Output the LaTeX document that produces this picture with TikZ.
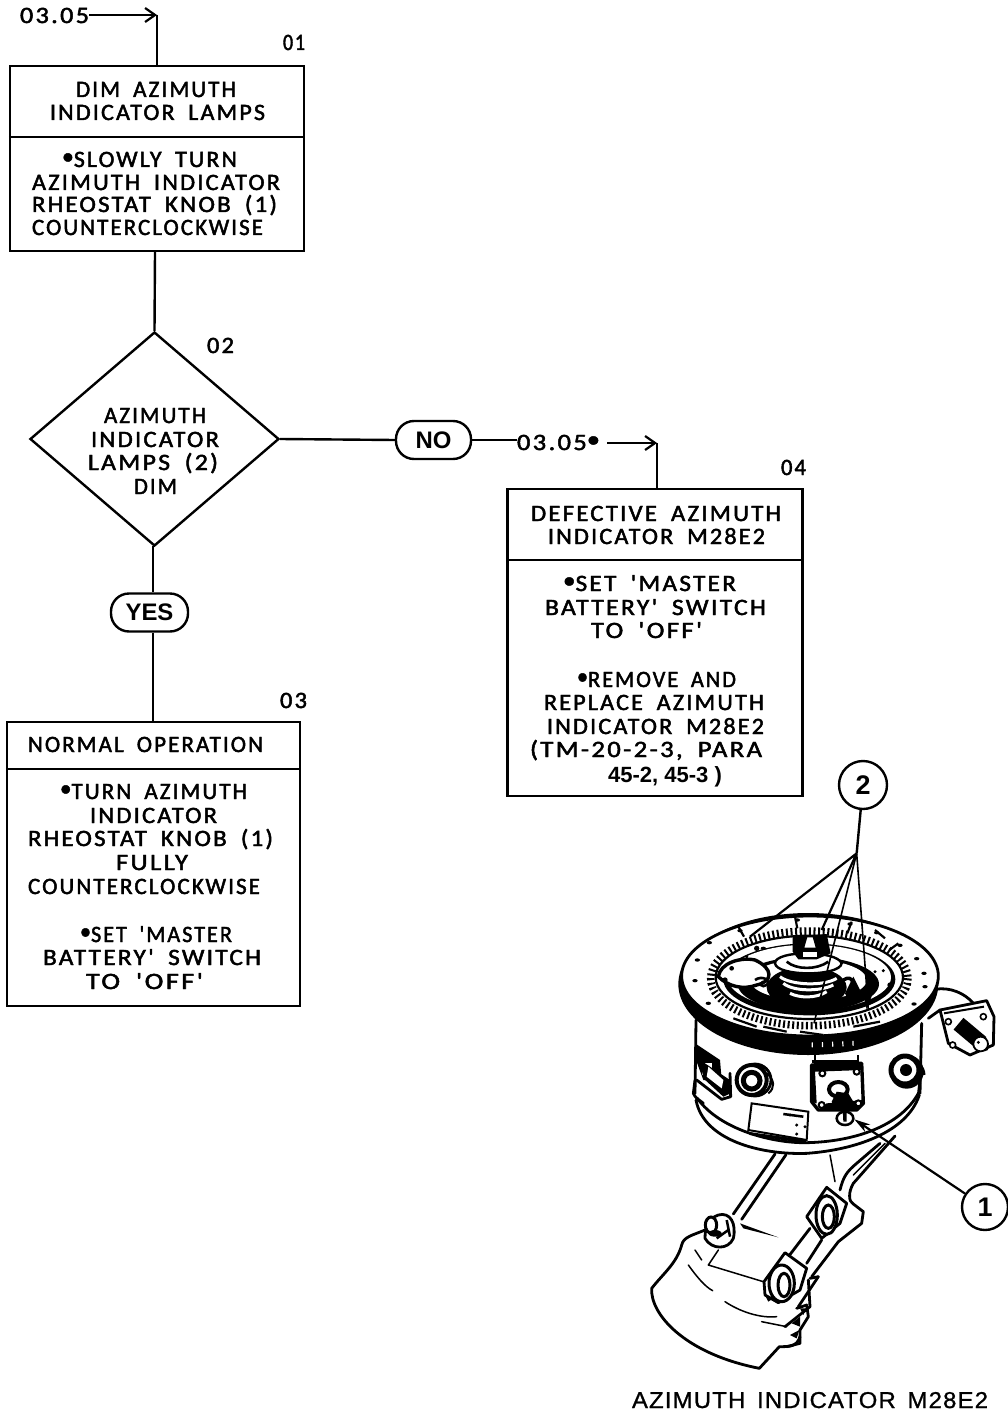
\documentclass[tikz,border=0pt]{standalone}
\usepackage{fontspec}
\usepackage{graphicx}
\usetikzlibrary{shapes.geometric,arrows.meta}
\setmainfont{Carlito}
\newfontfamily\lsf[LetterSpace=9,WordSpace=1.8,FakeBold=2]{Carlito}
\newfontfamily\capf[LetterSpace=5,WordSpace=1.5,FakeBold=1]{Liberation Sans}
\newfontfamily\boldf{Liberation Sans Bold}
\newcommand\Tline[5]{\pgfmathsetmacro\tw{#3-#2}\pgfmathsetmacro\tx{(#2+#3)/2}\node[txt] (#1) at (\tx,#4+7) {\resizebox{\tw bp}{\height}{\fontsize{23.5}{26}\lsf #5}};}
\newcommand\Bul{\raisebox{3pt}{•}}
\tikzset{
 flow/.style={line width=2.4bp,draw=black},
 txt/.style={anchor=base,inner sep=0pt},
 stepbox/.style={flow,rectangle,inner sep=0pt},
 term/.style={flow,rectangle,rounded corners=18bp,inner sep=0pt,font=\fontsize{24}{26}\boldf},
 callout/.style={line width=2.4bp,draw=black,circle,fill=white,inner sep=0pt,font=\fontsize{27}{28}\boldf},
 barb/.style={-{Straight Barb[length=10bp,width=14bp,line width=2.2bp]}},
 ill/.style={line width=1.5bp,draw=black,line join=round,line cap=round},
 illk/.style={line width=2.8bp,draw=black,line join=round,line cap=round},
}
\begin{document}
\begin{tikzpicture}[x=1bp,y=-1bp]
\useasboundingbox (0,0) rectangle (1007,1414);
% ---------- boxes
\node[stepbox,minimum width=294bp,minimum height=185bp] (b1) at (157,158.5) {};
\node[stepbox,minimum width=295bp,minimum height=307bp] (b4) at (655,642.5) {};
\node[stepbox,minimum width=293bp,minimum height=284bp] (b3) at (153.5,864) {};
\node[flow,diamond,shape aspect=1.164,inner sep=0pt,minimum width=249bp,minimum height=214bp] (d2) at (154.5,439) {};
\node[term,minimum width=75bp,minimum height=38bp] (no) at (433.5,440) {NO};
\node[term,minimum width=77bp,minimum height=38bp] (yes) at (149.5,612.5) {YES};
\draw[flow] (b1.west |- 0,137) -- (b1.east |- 0,137);
\draw[flow] (b4.west |- 0,560) -- (b4.east |- 0,560);
\draw[flow] (b3.west |- 0,769) -- (b3.east |- 0,769);
% ---------- reference labels
\Tline{r1}{20}{89}{16}{03.05}
\Tline{r4}{517}{600}{443}{03.05\Bul}
\coordinate (c1) at (157,15);
\coordinate (c4) at (657,443);
\coordinate (c4s) at (607,443);
\coordinate (d2b) at (153,546);
\draw[flow,barb] (r1.east |- c1) -- (c1);
\draw[flow,barb] (c4s) -- (c4);
\draw[flow] (c1) -- (b1.north);
\draw[flow] (c4) -- (c4 |- b4.north);
\draw[flow] ([xshift=-2bp]b1.south) -- (d2.north);
\draw[flow] (d2.east) -- (no.west);
\draw[flow] (no.east) -- (r4.west |- no.east);
\draw[flow] (d2b) -- (yes.north -| d2b);
\draw[flow] (yes.south -| d2b) -- (b3.north -| d2b);
% ---------- step numbers
\Tline{n1}{283}{305}{43}{01}
\Tline{n2}{207}{234}{346}{02}
\Tline{n3}{280}{307}{701}{03}
\Tline{n4}{781}{806}{468}{04}
% ---------- box 01
\Tline{a1}{76}{236}{90}{DIM AZIMUTH}
\Tline{a2}{50}{265}{113}{INDICATOR LAMPS}
\Tline{a3}{62}{237}{160}{\Bul SLOWLY TURN}
\Tline{a4}{32}{280}{183}{AZIMUTH INDICATOR}
\Tline{a5}{32}{277}{205}{RHEOSTAT KNOB (1)}
\Tline{a6}{32}{263}{228}{COUNTERCLOCKWISE}
% ---------- diamond
\Tline{q1}{104}{206}{416}{AZIMUTH}
\Tline{q2}{91}{219}{440}{INDICATOR}
\Tline{q3}{88}{218}{463}{LAMPS (2)}
\Tline{q4}{134}{177}{487}{DIM}
% ---------- box 03
\Tline{c01}{28}{263}{745}{NORMAL OPERATION}
\Tline{c02}{60}{247}{792}{\Bul TURN AZIMUTH}
\Tline{c03}{90}{217}{816}{INDICATOR}
\Tline{c04}{28}{273}{839}{RHEOSTAT KNOB (1)}
\Tline{c05}{116}{188}{863}{FULLY}
\Tline{c06}{28}{260}{887}{COUNTERCLOCKWISE}
\Tline{c07}{80}{232}{935}{\Bul SET 'MASTER}
\Tline{c08}{43}{261}{958}{BATTERY' SWITCH}
\Tline{c09}{86}{203}{982}{TO 'OFF'}
% ---------- box 04
\Tline{e01}{531}{781}{514}{DEFECTIVE AZIMUTH}
\Tline{e02}{548}{765}{537}{INDICATOR M28E2}
\Tline{e03}{563}{736}{584}{\Bul SET 'MASTER}
\Tline{e04}{545}{766}{608}{BATTERY' SWITCH}
\Tline{e05}{591}{702}{631}{TO 'OFF'}
\Tline{e06}{577}{736}{680}{\Bul REMOVE AND}
\Tline{e07}{544}{764}{703}{REPLACE AZIMUTH}
\Tline{e08}{547}{764}{727}{INDICATOR M28E2}
\Tline{e09}{530}{762}{750}{(TM-20-2-3, PARA}
\node[txt] (e10) at (665,782) {\resizebox{114bp}{!}{\fontsize{18}{20}\boldf 45-2, 45-3 )}};
% ---------- caption
\node[txt] (cap) at (810,1408) {\resizebox{356bp}{\height}{\fontsize{23}{24}\capf AZIMUTH INDICATOR M28E2}};
% ---------- illustration, upper part (zoom coordinates)
\begin{scope}[x=.33333bp,y=-.33333bp,shift={(640bp,-760bp)}]
 % connector at right
 \draw[illk] (885,688) .. controls (930,680) and (975,700) .. (1000,730);
 \draw[illk] (865,775) -- (900,750);
 \draw[illk,fill=white] (900,750) -- (1040,722) -- (1062,770) -- (1060,855) -- (990,885) -- (925,850) -- cycle;
 \foreach \p/\r in {925/785,1030/770,938/855,1035/862} \draw[line width=1.6bp,fill=white] (\p,\r) circle (9);
 \draw[line width=2bp] (912,760) -- (1032,740);
 \fill[rotate around={-40:(990,820)}] (945,797) rectangle (1035,843);
 \draw[line width=1.8bp,fill=white] (1022,852) circle (22);
 \fill (1015,847) circle (5);
 % body
 \fill[white] (165,780) rectangle (845,1000);
 \draw[illk] (168,780) -- (165,1000);
 \draw[illk] (845,790) -- (840,1000);
 % band and dial
 \fill (505,672) ellipse (390 and 213);
 \draw[illk,fill=white] (510,648) ellipse (385 and 180);
 \draw[line width=7.5bp,dash pattern=on 2bp off 2.6bp] (508,655) ellipse (296 and 142);
 \draw[line width=2.2bp,fill=white] (508,652) ellipse (281 and 125);
 \fill (508,658) ellipse (258 and 108);
 \fill[white] (508,652) ellipse (245 and 98);
 \fill (505,672) ellipse (212 and 82);
 \fill[white] (505,660) ellipse (175 and 62);
 \fill (500,682) ellipse (120 and 62);
 % left motif
 \draw[line width=3.4bp,fill=white] (235,650) .. controls (240,610) and (300,590) .. (345,600)
   .. controls (400,625) and (400,665) .. (350,675) .. controls (310,690) and (265,680) .. cycle;
 \fill (275,625) circle (7) (255,660) circle (8) (350,565) circle (8) (300,600) circle (5) (320,590) circle (5);
 \draw[line width=2.6bp] (345,660) .. controls (365,645) and (395,660) .. (380,675) .. controls (365,685) and (355,670) .. (370,665);
 \draw[line width=3bp] (330,700) .. controls (370,740) and (420,750) .. (470,745);
 % right motif
 \draw[line width=3.4bp] (610,660) .. controls (640,640) and (650,680) .. (620,700);
 \fill (615,700) -- (640,650) -- (660,690) -- (630,730) -- cycle;
 \fill (690,665) -- (698,700) -- (680,750) -- (672,705) -- cycle;
 \fill (750,675) circle (8) (730,632) circle (5) (705,635) circle (5);
 % hub
 \draw[line width=2.4bp,fill=white] (405,610) .. controls (405,570) and (590,570) .. (605,610)
   .. controls (600,650) and (410,650) .. cycle;
 \draw[line width=3bp,white] (420,650) .. controls (450,675) and (550,680) .. (590,655);
 \draw[line width=3bp,white] (430,670) .. controls (460,695) and (540,695) .. (580,675);
 \draw[line width=3bp,white] (450,700) .. controls (480,715) and (530,715) .. (560,695);
 \draw[line width=2.6bp] (440,605) .. controls (470,630) and (530,630) .. (565,605);
 \fill (458,530) -- (560,522) -- (572,580) -- (530,598) -- (475,598) -- (458,575) -- cycle;
 \draw[line width=1.5bp,fill=white] (490,565) -- (500,530) -- (520,530) -- (530,565) -- cycle;
 \fill[white] (490,575) rectangle (530,590);
 % rim marks
 \foreach \p/\r in {208/548,172/600,165/662,205/730,300/512,472/480,630/492,710/518,780/556,830/596,852/640,855/680,822/732,370/565}
   \fill (\p,\r) ellipse (8 and 5);
 \foreach \a/\b/\c/\d in {295/500/312/530,465/470/472/505,635/485/622/520,705/510/735/535,775/550/748/570,480/815/550/825,370/800/440/815,280/775/350/800,640/800/720/785}
   \draw[line width=2.2bp] (\a,\b) -- (\c,\d);
 % notches on band
 \draw[white,line width=5bp,dash pattern=on 1.2bp off 9bp] (515,855) -- (650,850);
 % front panel items
 \fill (165,850) -- (180,860) -- (240,900) -- (245,960) -- (190,960) -- (168,900) -- cycle;
 \fill[white] (185,910) rectangle (215,945);
 \draw[illk] (345,960) circle (48);
 \draw[line width=3.5bp,fill=white] (345,960) circle (30);
 \draw[line width=3bp] (755,925) .. controls (790,870) and (850,900) .. (852,945);
 \draw[line width=4bp] (800,935) circle (45);
 \draw[line width=5bp,fill=white] (800,935) circle (26);
 \fill (800,935) circle (15);
 \draw[line width=3.4bp] (515,905) -- (655,905);
 \draw[line width=2bp] (525,905) -- (525,885) (655,905) -- (655,885);
 % leader lines
 \coordinate (j2) at (650,280);
 \coordinate (t1) at (330,530);
 \coordinate (t2) at (545,510);
 \coordinate (t3) at (522,790);
 \coordinate (t4) at (685,750);
\end{scope}
% ---------- illustration, lower part (zoom coordinates)
\begin{scope}[x=.33333bp,y=-.33333bp,shift={(640bp,-1060bp)}]
 % panel + knobs continue
 \draw[illk] (165,60) -- (160,100) .. controls (170,120) and (180,120) .. (190,130);
 \draw[illk] (840,60) -- (835,105);
 \draw[illk] (270,40) -- (272,110) -- (245,118) -- (170,60);
 \fill (180,0) -- (270,60) -- (272,100) -- (250,110) -- (190,55) -- cycle;
 \fill[white] (205,20) -- (250,60) -- (245,85) -- (200,50) -- cycle;
 \draw[line width=4bp,fill=white] (335,60) circle (45);
 \draw[line width=5bp,fill=white] (335,62) circle (25);
 \draw[line width=5bp,fill=white] (795,30) circle (42);
 \fill (798,30) circle (18);
 \draw[line width=2bp] (380,40) .. controls (405,60) and (405,85) .. (385,100);
 % base flange
 \draw[illk] (168,120) .. controls (190,240) and (360,285) .. (500,280) .. controls (640,270) and (800,220) .. (838,105);
 \draw[illk] (172,115) .. controls (240,210) and (400,250) .. (500,248) .. controls (640,245) and (780,200) .. (835,100);
 \fill (320,215) -- (500,240) -- (495,250) -- (330,225) -- cycle;
 % plate
 \draw[line width=2bp] (335,130) -- (505,155) -- (500,240) -- (325,210) -- cycle;
 \foreach \p/\r in {450/165,470/195,495/200,470/222} \fill (\p,\r) circle (5);
 \draw[line width=2.5bp] (430,162) -- (490,170);
 % square switch plate
 \draw[line width=3.4bp,fill=white,line join=round] (515,15) -- (665,10) -- (670,130) -- (650,150) -- (535,150) -- (515,125) -- cycle;
 \fill (515,15) -- (665,10) -- (667,30) -- (525,35) -- (530,130) -- (515,125) -- cycle;
 \fill (560,130) -- (670,120) -- (650,150) -- (535,150) -- cycle;
 \foreach \p/\r in {547/40,650/35,545/135,655/130} \draw[line width=2bp,fill=white] (\p,\r) circle (9);
 \draw[line width=4bp,fill=white] (595,88) ellipse (28 and 22);
 \fill (575,125) -- (590,95) -- (625,100) -- (640,125) -- (625,160) -- (585,150) -- cycle;
 \draw[line width=2.5bp,fill=white] (615,175) ellipse (25 and 20);
 \fill (608,145) -- (620,145) -- (620,185) -- (610,185) -- cycle;
 % arms
 \draw[illk] (405,282) -- (280,462);
 \draw[illk] (438,284) -- (305,478);
 \draw[ill] (570,285) -- (585,365);
 \draw[illk] (720,250) -- (650,310) .. controls (620,335) and (610,350) .. (600,390);
 \draw[illk] (765,228) -- (640,370) .. controls (625,395) and (625,425) .. (640,432) -- (670,455) -- (665,490) -- (595,545) -- (515,650);
 \draw[ill] (735,250) -- (640,345);
 % housing
 \draw[illk] (195,510) .. controls (160,525) and (130,530) .. (125,555) .. controls (110,610) and (70,640) .. (35,685)
    .. controls (30,760) and (130,880) .. (358,925) -- (418,860) .. controls (450,860) and (470,860) .. (480,830);
 \draw[ill] (165,570) -- (185,600);
 \draw[ill] (145,615) .. controls (170,650) and (195,680) .. (218,692);
 \draw[ill] (255,725) .. controls (300,755) and (360,775) .. (410,770);
 \draw[ill] (365,785) -- (440,800);
 \draw[ill] (235,570) -- (205,615) -- (370,665);
 % small wedge
 \fill (300,490) -- (415,532) -- (310,505) -- cycle;
 % left nut
 \draw[illk,fill=white] (235,465) .. controls (270,455) and (290,490) .. (280,535) .. controls (265,570) and (215,570) .. (195,535) .. controls (195,500) and (205,475) .. cycle;
 \draw[line width=3bp,fill=white] (213,495) ellipse (17 and 24);
 \fill (225,520) ellipse (20 and 10);
 \draw[line width=2.5bp] (260,480) -- (270,530) (230,535) -- (265,510);
 % upper bearing
 \draw[illk,fill=white] (500,470) -- (560,382) -- (620,430) -- (600,490) -- (545,535) -- cycle;
 \draw[line width=3bp,fill=white] (560,465) ellipse (32 and 58);
 \draw[line width=3bp,fill=white] (565,470) ellipse (18 and 35);
 % link between bearings
 \draw[illk] (510,505) -- (445,590);
 \draw[illk] (545,540) -- (500,610);
 % lower bearing
 \draw[illk,fill=white] (372,665) -- (435,578) -- (500,625) -- (480,690) -- (415,728) -- (375,705) -- cycle;
 \draw[line width=3bp,fill=white] (425,670) ellipse (38 and 55);
 \draw[line width=3bp,fill=white] (432,675) ellipse (18 and 35);
 \fill (372,700) -- (400,715) -- (385,725) -- cycle;
 % side strap
 \draw[illk] (510,655) -- (535,650);
 \draw[illk] (505,660) -- (510,740) -- (435,800);
 \draw[illk] (535,650) -- (475,740);
 % cog
 \draw[illk] (470,745) -- (500,735) -- (505,770) -- (480,810) -- (480,850) -- (440,860);
 \fill (480,745) -- (498,745) -- (490,765) -- cycle;
 \fill (455,790) -- (480,770) -- (480,800) -- cycle;
 \fill (450,825) -- (478,810) -- (470,835) -- cycle;
 \coordinate (tip) at (643,178);
\end{scope}
% ---------- callouts
\node[callout,minimum size=48bp] (k2) at (863,785) {2};
\node[callout,minimum size=46bp] (k1) at (985,1207) {1};
\draw[line width=2.4bp] (k2) -- (j2);
\draw[line width=2.2bp] (j2) -- (t1) (j2) -- (t2);
\draw[line width=1.6bp] (j2) -- (t3) (j2) -- (t4);
\draw[line width=2.2bp,-{Stealth[length=16bp,width=9bp]}] (k1) -- (tip);
\end{tikzpicture}
\end{document}
